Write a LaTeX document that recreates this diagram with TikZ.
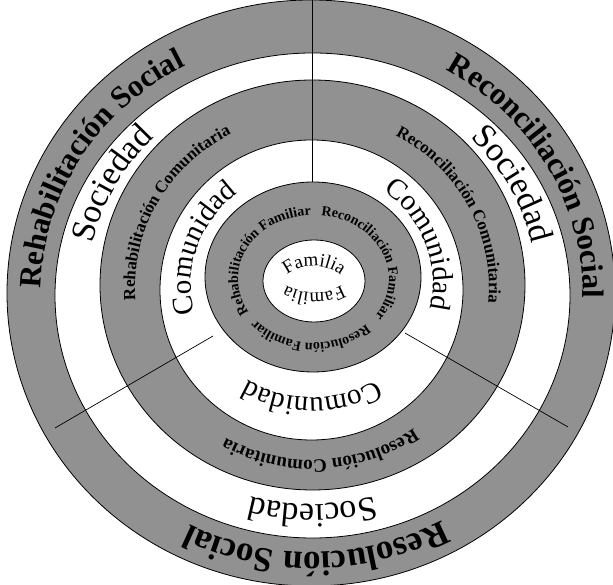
\documentclass[tikz,border=0pt]{standalone}
\usepackage{fontspec}
\setmainfont{Liberation Serif}
\usetikzlibrary{decorations.text}
\definecolor{ringGray}{RGB}{145,145,145}
\newcommand\socialfont{\fontsize{31}{31}\selectfont\bfseries}
\newcommand\socialfontbig{\fontsize{35}{35}\selectfont\bfseries}
\newcommand\levelfont{\fontsize{34}{34}\selectfont}
\newcommand\comfont{\fontsize{29}{29}\selectfont}
\newcommand\midfont{\fontsize{17}{17}\selectfont\bfseries}
\newcommand\midfontbig{\fontsize{19}{19}\selectfont\bfseries}
\newcommand\famfont{\fontsize{14}{14}\selectfont\bfseries}
\newcommand\corefont{\fontsize{19}{19}\selectfont}

\begin{document}
\begin{tikzpicture}[
    x=1pt, y=1pt,
    ring/.style={draw=black, line width=0.8pt, fill=ringGray},
    band/.style={draw=black, line width=0.8pt, fill=white},
    divider/.style={black, line width=0.7pt},
    arc label/.style={decorate, decoration={text along path, text align=center, text={#1}}}
]
  \useasboundingbox (0,0) rectangle (613,585);
  \clip (0,0) rectangle (613,585);

  % rings, outside in
  \draw[ring] (311,292) ellipse [x radius=304pt, y radius=293pt];
  \draw[band] (312.5,289.5) ellipse [x radius=257.5pt, y radius=242.5pt];
  \draw[ring] (312.5,300) ellipse [x radius=212.5pt, y radius=205pt];
  \draw[band] (311.5,295) ellipse [x radius=151.5pt, y radius=150pt];
  \draw[ring] (313,308) ellipse [x radius=108pt, y radius=95pt];
  \draw[band] (314,304) ellipse [x radius=51pt, y radius=41pt];

  % dividers
  \coordinate (top out) at (312,585);
  \coordinate (top in) at (312,403);
  \coordinate (left out) at (55,157);
  \coordinate (left in) at (213,249);
  \coordinate (right out) at (568,158);
  \coordinate (right in) at (405,252);
  \draw[divider] (top out) -- (top in);
  \draw[divider] (left out) -- (left in);
  \draw[divider] (right out) -- (right in);

  % social ring
  \coordinate (social) at (311.75,290.75);
  \path[arc label={|\socialfont|Rehabilitación Social}] (social) ++(219:271pt and 258pt) arc[start angle=219, end angle=79, x radius=271pt, y radius=258pt];
  \path[arc label={|\socialfont|Reconciliación Social}] (social) ++(99:271pt and 258pt) arc[start angle=99, end angle=-41, x radius=271pt, y radius=258pt];
  \path[arc label={|\socialfontbig|Resolución Social}] (social) ++(-19:271pt and 258pt) arc[start angle=-19, end angle=-159, x radius=271pt, y radius=258pt];

  % sociedad band
  \coordinate (soc) at (312.5,294.75);
  \path[arc label={|\levelfont|Sociedad}] (soc) ++(222:225pt and 214pt) arc[start angle=222, end angle=82, x radius=225pt, y radius=214pt];
  \path[arc label={|\levelfont|Sociedad}] (soc) ++(98:225pt and 214pt) arc[start angle=98, end angle=-42, x radius=225pt, y radius=214pt];
  \path[arc label={|\levelfont|Sociedad}] (soc) ++(-20:225pt and 214pt) arc[start angle=-20, end angle=-160, x radius=225pt, y radius=214pt];

  % comunitaria ring
  \coordinate (com ring) at (312,297.5);
  \path[arc label={|\midfont|Rehabilitación Comunitaria}] (com ring) ++(221:177pt and 172.5pt) arc[start angle=221, end angle=81, x radius=177pt, y radius=172.5pt];
  \path[arc label={|\midfont|Reconciliación Comunitaria}] (com ring) ++(98:177pt and 172.5pt) arc[start angle=98, end angle=-42, x radius=177pt, y radius=172.5pt];
  \path[arc label={|\midfontbig|Resolución Comunitaria}] (com ring) ++(-17:177pt and 172.5pt) arc[start angle=-17, end angle=-157, x radius=177pt, y radius=172.5pt];

  % comunidad band
  \coordinate (com) at (312.25,301.5);
  \path[arc label={|\comfont|Comunidad}] (com) ++(232:121pt and 114pt) arc[start angle=232, end angle=92, x radius=121pt, y radius=114pt];
  \path[arc label={|\comfont|Comunidad}] (com) ++(90:121pt and 114pt) arc[start angle=90, end angle=-50, x radius=121pt, y radius=114pt];
  \path[arc label={|\comfont|Comunidad}] (com) ++(-20:121pt and 114pt) arc[start angle=-20, end angle=-160, x radius=121pt, y radius=114pt];

  % familiar ring
  \coordinate (fam) at (313.5,306);
  \path[arc label={|\famfont|Rehabilitación Familiar}] (fam) ++(222:75.5pt and 64pt) arc[start angle=222, end angle=82, x radius=75.5pt, y radius=64pt];
  \path[arc label={|\famfont|Reconciliación Familiar}] (fam) ++(94:75.5pt and 64pt) arc[start angle=94, end angle=-46, x radius=75.5pt, y radius=64pt];
  \path[arc label={|\famfont|Resolución Familiar}] (fam) ++(-23:75.5pt and 64pt) arc[start angle=-23, end angle=-163, x radius=75.5pt, y radius=64pt];

  % core
  \coordinate (core top) at (314,275);
  \coordinate (core bottom) at (314,347);
  \path[arc label={|\corefont|Familia}] (core top) ++(150:44pt) arc[start angle=150, end angle=30, radius=44pt];
  \path[arc label={|\corefont|Familia}] (core bottom) ++(-45:55pt) arc[start angle=-45, end angle=-135, radius=55pt];
\end{tikzpicture}
\end{document}
